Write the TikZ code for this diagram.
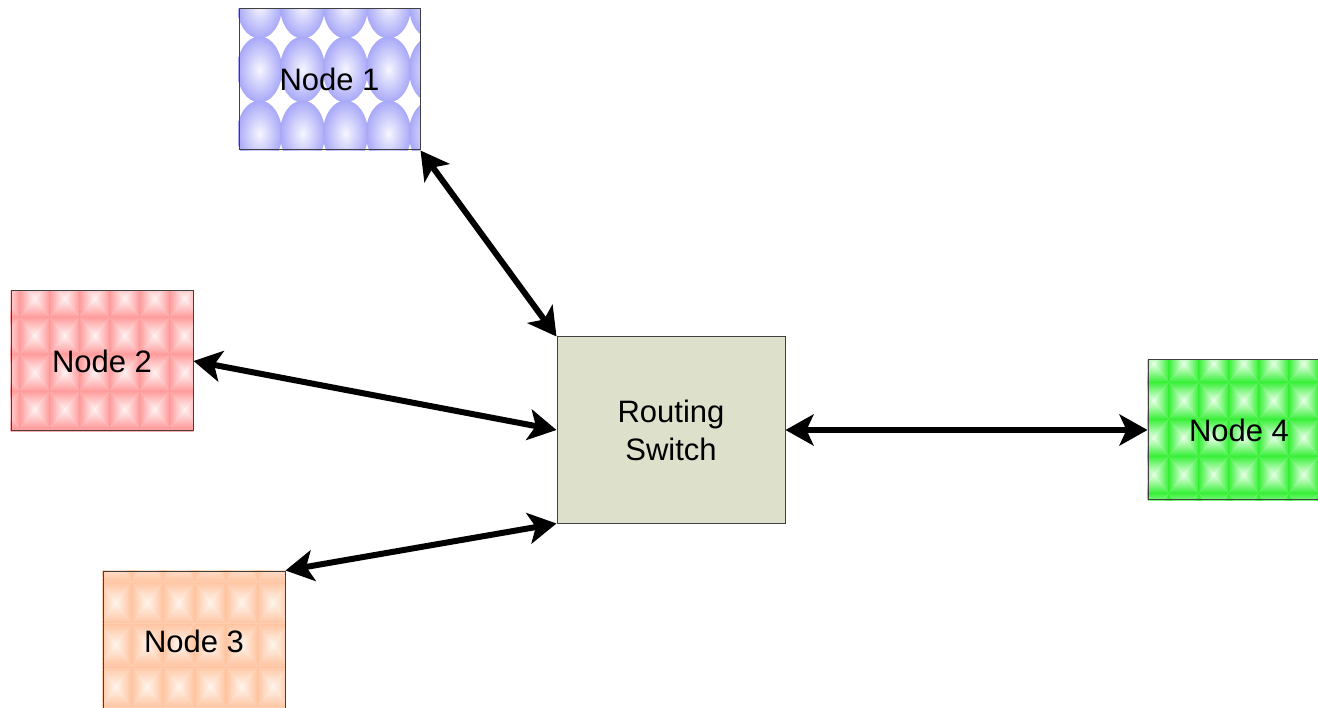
\documentclass[tikz,border=0pt]{standalone}
\usepackage{fontspec}
\setmainfont{Liberation Sans}
\usetikzlibrary{arrows.meta,backgrounds}
\definecolor{swfill}{RGB}{221,225,204}
\definecolor{blueE}{RGB}{168,168,248}
\definecolor{blueC}{RGB}{246,246,255}
\definecolor{redE}{RGB}{255,156,156}
\definecolor{redC}{RGB}{255,242,242}
\definecolor{orgE}{RGB}{255,196,160}
\definecolor{orgC}{RGB}{255,244,236}
\definecolor{grnE}{RGB}{56,240,56}
\definecolor{grnC}{RGB}{232,255,232}
\newcommand{\pyrtile}[6]{%
 \fill[#6] ({#1},{#2}) rectangle ({#1+#3},{#2+#4});
 \shade[top color=#5,bottom color=#6] ({#1},{#2}) -- ({#1+#3},{#2}) -- ({#1+#3/2},{#2+#4/2}) -- cycle;
 \shade[top color=#6,bottom color=#5] ({#1},{#2+#4}) -- ({#1+#3},{#2+#4}) -- ({#1+#3/2},{#2+#4/2}) -- cycle;
 \shade[left color=#5,right color=#6] ({#1},{#2}) -- ({#1},{#2+#4}) -- ({#1+#3/2},{#2+#4/2}) -- cycle;
 \shade[left color=#6,right color=#5] ({#1+#3},{#2}) -- ({#1+#3},{#2+#4}) -- ({#1+#3/2},{#2+#4/2}) -- cycle;
}
\tikzset{
 box/.style={draw=black!75, line width=1pt, inner sep=0pt,
   font=\fontsize{31}{38}\selectfont, text=black},
 nodebox/.style={box, minimum width=182pt, minimum height=140pt},
 link/.style={line width=6pt, {Stealth[length=28pt,width=31pt,inset=7pt]}-{Stealth[length=28pt,width=31pt,inset=7pt]}}
}
\begin{document}
\begin{tikzpicture}[x=1pt,y=-1pt]
\useasboundingbox (0,0) rectangle (1318,708);
\node[nodebox, minimum width=181pt, minimum height=141pt] (n1) at (329.5,79.5) {Node 1};
\node[nodebox] (n2) at (102,361) {Node 2};
\node[nodebox] (n3) at (194,641) {Node 3};
\node[nodebox] (n4) at (1239,430) {Node 4};
\node[box, fill=swfill, minimum width=228pt, minimum height=186pt, align=center] (sw) at (671,430) {Routing\\Switch};
\draw[link] (n1.south east) -- (sw.north west);
\draw[link] (n2.east) -- (sw.west);
\draw[link] (n3.north east) -- (sw.south west);
\draw[link] (sw.east) -- (n4.west);
\begin{pgfonlayer}{background}
 \fill[white] (0,0) rectangle (1318,708);
 % Node 1: blue ovals
 \begin{scope}
  \clip (n1.north west) rectangle (n1.south east);
  \fill[white] (n1.north west) rectangle (n1.south east);
  \begin{scope}[shift={(n1.north west)}]
   \foreach \i in {0,...,4} {
    \foreach \j in {0,...,2} {
     \pgfmathsetmacro{\cx}{21+43*\i}
     \pgfmathsetmacro{\cy}{-3+64*\j}
     \shade[inner color=blueC, outer color=blueE] (\cx,\cy) ellipse [x radius=22.5, y radius=33];
    }
   }
  \end{scope}
 \end{scope}
 % Node 2: red tiles
 \begin{scope}
  \clip (n2.north west) rectangle (n2.south east);
  \begin{scope}[shift={(n2.north west)}]
   \foreach \i in {0,...,7} {
    \foreach \j in {0,...,4} {
     \pgfmathsetmacro{\tx}{-21+30*\i}
     \pgfmathsetmacro{\ty}{-10.5+37*\j}
     \pyrtile{\tx}{\ty}{30}{37}{redE}{redC}
    }
   }
  \end{scope}
 \end{scope}
 % Node 3: orange tiles
 \begin{scope}
  \clip (n3.north west) rectangle (n3.south east);
  \begin{scope}[shift={(n3.north west)}]
   \foreach \i in {0,...,7} {
    \foreach \j in {0,...,4} {
     \pgfmathsetmacro{\tx}{-34.25+31.5*\i}
     \pgfmathsetmacro{\ty}{-31+42*\j}
     \pyrtile{\tx}{\ty}{31.5}{42}{orgE}{orgC}
    }
   }
  \end{scope}
 \end{scope}
 % Node 4: green tiles
 \begin{scope}
  \clip (n4.north west) rectangle (n4.south east);
  \begin{scope}[shift={(n4.north west)}]
   \foreach \i in {0,...,8} {
    \foreach \j in {0,...,5} {
     \pgfmathsetmacro{\tx}{-39+30*\i}
     \pgfmathsetmacro{\ty}{-51.5+37*\j}
     \pyrtile{\tx}{\ty}{30}{37}{grnE}{grnC}
    }
   }
  \end{scope}
 \end{scope}
\end{pgfonlayer}
\end{tikzpicture}
\end{document}
